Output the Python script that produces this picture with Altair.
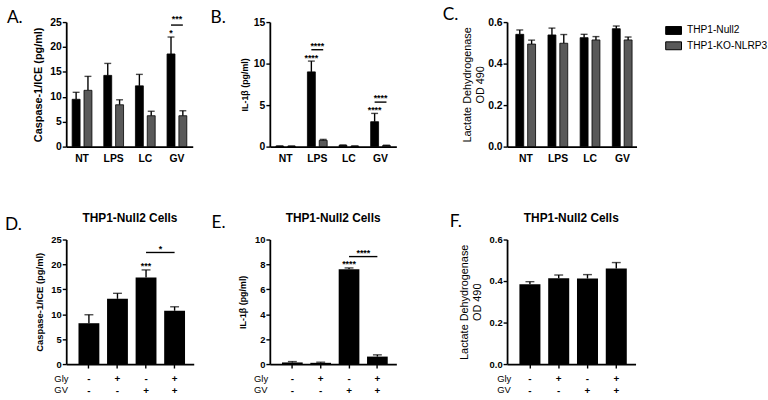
import altair as alt
import pandas as pd

FONT = "Liberation Sans"
LETTER_FONT = "Lato"

# ---------------- data ----------------
treatments = ["NT", "LPS", "LC", "GV"]
cell_lines = ["THP1-Null2", "THP1-KO-NLRP3"]

# A. Caspase-1/ICE (pg/ml)
casp_null = [9.5, 14.3, 12.2, 18.6]
casp_null_sem = [1.4, 2.4, 2.3, 3.4]
casp_ko = [11.3, 8.4, 6.2, 6.2]
casp_ko_sem = [2.8, 1.0, 0.9, 1.0]

# B. IL-1β (pg/ml)
il_null = [0.06, 9.0, 0.15, 3.0]
il_null_sem = [0.02, 1.3, 0.05, 1.0]
il_ko = [0.05, 0.75, 0.06, 0.12]
il_ko_sem = [0.02, 0.12, 0.02, 0.05]

# C. Lactate dehydrogenase OD 490
ldh_null = [0.541, 0.538, 0.525, 0.568]
ldh_null_sem = [0.021, 0.033, 0.016, 0.013]
ldh_ko = [0.494, 0.498, 0.514, 0.514]
ldh_ko_sem = [0.019, 0.042, 0.016, 0.014]

# D-F. THP1-Null2 cells, Gly / GV combinations
row_headers = ["Gly", "GV"]
gly = ["-", "+", "-", "+"]
gv = ["-", "-", "+", "+"]
casp2 = [8.2, 13.1, 17.4, 10.7]
casp2_sem = [1.7, 1.1, 1.5, 0.8]
il2 = [0.13, 0.1, 7.62, 0.6]
il2_sem = [0.07, 0.05, 0.1, 0.14]
ldh2 = [0.385, 0.413, 0.412, 0.46]
ldh2_sem = [0.012, 0.016, 0.019, 0.029]

# significance annotations
A_bar_stars = [("GV", "THP1-Null2", 22.2, "*")]
A_pairs = [("GV", 24.4, 25.0, "***")]
B_bar_stars = [("LPS", "THP1-Null2", 10.35, "****"), ("GV", "THP1-Null2", 4.05, "****")]
B_pairs = [("LPS", 11.67, 11.8, "****"), ("GV", 5.36, 5.45, "****")]
D_bar_stars = [(2, 19.1, "***")]
D_pair = (2, 3, 22.4, 22.5, "*")
E_bar_stars = [(2, 7.8, "****")]
E_pair = (2, 3, 8.63, 8.7, "****")

GRAY = "#595959"


def y_axis(values, fmt, title, tsize, tweight, tpad, extent, lsize):
    return alt.Axis(values=values, format=fmt, title=title, titleFontSize=tsize,
                    titleFontWeight=tweight, titlePadding=tpad, minExtent=extent,
                    maxExtent=extent, labelFontSize=lsize, labelFontWeight="bold",
                    labelPadding=1, tickSize=4, tickWidth=1.4, domainWidth=1.8,
                    grid=False, labelFont=FONT, titleFont=FONT, labelColor="black",
                    titleColor="black", tickColor="black", domainColor="black")


def star_text(df):
    return alt.Chart(df).mark_text(font=FONT, fontWeight="bold", fontSize=9,
                                   baseline="alphabetic", color="black")


def grouped_panel(nm, ns, km, ks, ymax, yaxis, width, xsc, bar_stars, pairs, legend=False):
    rows = []
    for i, t in enumerate(treatments):
        rows.append(dict(treat=t, line=cell_lines[0], mean=nm[i], hi=nm[i] + ns[i]))
        rows.append(dict(treat=t, line=cell_lines[1], mean=km[i], hi=km[i] + ks[i]))
    df = pd.DataFrame(rows)
    xaxis = alt.Axis(title=None, labelAngle=0, ticks=False, labelPadding=7,
                     labelFontSize=10.5, labelFontWeight="bold", labelFont=FONT,
                     labelColor="black", domainWidth=1.8, domainColor="black")
    X = alt.X("treat:N", sort=treatments, scale=alt.Scale(domain=treatments, **xsc), axis=xaxis)
    XO = alt.XOffset("line:N", sort=cell_lines,
                     scale=alt.Scale(domain=cell_lines, paddingInner=0.33, paddingOuter=0))
    ysc = alt.Scale(domain=[0, ymax], nice=False, zero=True)

    def Y(f):
        return alt.Y(f + ":Q", scale=ysc, axis=yaxis)

    if legend:
        leg = alt.Legend(orient="none", legendX=160, legendY=0, title=None,
                         symbolType="M-1,-0.5H1V0.5H-1Z", symbolSize=256,
                         symbolStrokeColor="black", symbolStrokeWidth=1,
                         symbolOpacity=1, labelFont=FONT, labelFontSize=10.3,
                         labelColor="black", labelOffset=5, rowPadding=0.5, padding=0)
    else:
        leg = None
    color = alt.Color("line:N", sort=cell_lines,
                      scale=alt.Scale(domain=cell_lines, range=["#000000", GRAY]),
                      legend=leg)
    base = alt.Chart(df)
    err = base.mark_rule(color="black", strokeWidth=1.4).encode(
        x=X, xOffset=XO, y=Y("mean"), y2="hi:Q")
    bars = base.mark_bar(stroke="black", strokeWidth=0.8).encode(
        x=X, xOffset=XO, y=Y("mean"), color=color)
    cap = base.mark_tick(color="black", thickness=1.4, size=7).encode(
        x=X, xOffset=XO, y=Y("hi"))
    layers = [err, bars, cap]
    if bar_stars:
        sb = pd.DataFrame(bar_stars, columns=["treat", "line", "y", "txt"])
        layers.append(star_text(sb).encode(x=X, xOffset=XO, y=Y("y"), text="txt:N"))
    if pairs:
        lrows = []
        trows = []
        for j, (t, ly, ty, txt) in enumerate(pairs):
            for ln in cell_lines:
                lrows.append(dict(treat=t, line=ln, y=ly, g=j))
            trows.append(dict(treat=t, y=ty, txt=txt))
        layers.append(alt.Chart(pd.DataFrame(lrows)).mark_line(color="black", strokeWidth=1.4).encode(
            x=X, xOffset=XO, y=Y("y"), detail="g:N"))
        layers.append(star_text(pd.DataFrame(trows)).encode(x=X, y=Y("y"), text="txt:N"))
    return alt.layer(*layers).properties(width=width, height=126)


def single_panel(vals, sems, ymax, yaxis, width, bar_stars, pair):
    cats = [f"{a}|{b}" for a, b in zip(gly, gv)]
    df = pd.DataFrame(dict(cat=cats, mean=vals, hi=[v + s for v, s in zip(vals, sems)]))
    xaxis = alt.Axis(title=None, labelAngle=0, labelExpr="split(datum.label, '|')",
                     ticks=True, tickSize=4, tickWidth=1.4, tickColor="black",
                     labelPadding=6, labelLineHeight=11.5, labelFontSize=10,
                     labelFontWeight="bold", labelFont=FONT, labelColor="black",
                     domainWidth=1.8, domainColor="black")
    X = alt.X("cat:N", sort=cats,
              scale=alt.Scale(domain=cats, paddingInner=0.27, paddingOuter=0.367, align=0.585),
              axis=xaxis)
    ysc = alt.Scale(domain=[0, ymax], nice=False, zero=True)

    def Y(f):
        return alt.Y(f + ":Q", scale=ysc, axis=yaxis)

    base = alt.Chart(df)
    err = base.mark_rule(color="black", strokeWidth=1.4).encode(x=X, y=Y("mean"), y2="hi:Q")
    bars = base.mark_bar(color="black").encode(x=X, y=Y("mean"))
    cap = base.mark_tick(color="black", thickness=1.4, size=9).encode(x=X, y=Y("hi"))
    layers = [err, bars, cap]
    if bar_stars:
        sb = pd.DataFrame([dict(cat=cats[i], y=y, txt=t) for i, y, t in bar_stars])
        layers.append(star_text(sb).encode(x=X, y=Y("y"), text="txt:N"))
    if pair:
        i0, i1, ly, ty, txt = pair
        ld = pd.DataFrame([dict(cat=cats[i0], y=ly), dict(cat=cats[i1], y=ly)])
        layers.append(alt.Chart(ld).mark_line(color="black", strokeWidth=1.4).encode(x=X, y=Y("y")))
        td = pd.DataFrame([dict(cat=cats[i0], y=ty, txt=txt)])
        layers.append(alt.Chart(td).mark_text(font=FONT, fontWeight="bold", fontSize=9,
                                              baseline="alphabetic", color="black", dx=14.5)
                      .encode(x=X, y=Y("y"), text="txt:N"))
    title = alt.TitleParams("THP1-Null2 Cells", font=FONT, fontSize=12, fontWeight="bold",
                            color="black", anchor="middle", frame="group", offset=10)
    return alt.layer(*layers).properties(width=width, height=126, title=title)


def spacer(w, h, letter=None, lx=0, ly=0, top=False, header_x=None):
    layers = [alt.Chart(pd.DataFrame({"k": [0]})).mark_rect(opacity=0).encode(
        x=alt.value(0), x2=alt.value(1),
        y=alt.value(-20 if top else 0), y2=alt.value(0 if top else 1))]
    if letter:
        layers.append(alt.Chart(pd.DataFrame({"lab": [letter]})).mark_text(
            font=LETTER_FONT, fontSize=17.5, align="left", baseline="alphabetic",
            color="black").encode(x=alt.value(lx), y=alt.value(ly), text="lab:N"))
    if header_x is not None:
        layers.append(alt.Chart(pd.DataFrame({"h": ["\n".join(row_headers)]})).mark_text(
            font=FONT, fontSize=9.5, align="left", baseline="top", lineBreak="\n",
            lineHeight=11.5, color="black").encode(
            x=alt.value(header_x), y=alt.value(136), text="h:N"))
    return alt.layer(*layers).properties(width=w, height=h)


xsc_ab = dict(paddingInner=0.375, paddingOuter=0.1875)
xsc_c = dict(paddingInner=0.375, paddingOuter=0.2, align=0.68)

panel_a = grouped_panel(casp_null, casp_null_sem, casp_ko, casp_ko_sem, 25,
                        y_axis([0, 5, 10, 15, 20, 25], "d", "Caspase-1/ICE (pg/ml)", 11, "bold", 6.5, 17, 10.5),
                        128, xsc_ab, A_bar_stars, A_pairs)
panel_b = grouped_panel(il_null, il_null_sem, il_ko, il_ko_sem, 15,
                        y_axis([0, 5, 10, 15], "d", "IL-1β (pg/ml)", 9, "bold", 3.5, 17, 10.5),
                        128, xsc_ab, B_bar_stars, B_pairs)
panel_c = grouped_panel(ldh_null, ldh_null_sem, ldh_ko, ldh_ko_sem, 0.6,
                        y_axis([0, 0.2, 0.4, 0.6], ".1f", ["Lactate Dehydrogenase", "OD 490"], 11, "normal", 2, 20, 10.5),
                        131, xsc_c, None, None, legend=True)

panel_d = single_panel(casp2, casp2_sem, 25,
                       y_axis([0, 5, 10, 15, 20, 25], "d", "Caspase-1/ICE (pg/ml)", 9.5, "bold", 5.5, 17, 9.5),
                       129, D_bar_stars, D_pair)
panel_e = single_panel(il2, il2_sem, 10,
                       y_axis([0, 2, 4, 6, 8, 10], "d", "IL-1β (pg/ml)", 9, "bold", 5.5, 17, 9.5),
                       128, E_bar_stars, E_pair)
panel_f = single_panel(ldh2, ldh2_sem, 0.6,
                       y_axis([0, 0.2, 0.4, 0.6], ".1f", ["Lactate Dehydrogenase", "OD 490"], 11, "normal", 5, 20, 9.5),
                       130, None, None)

row1 = [spacer(67, 126, "A.", 7, 1, top=True), panel_a,
        spacer(77, 126, "B.", 17, 1), panel_b,
        spacer(102, 126, "C.", 47, -2), panel_c]
gap_row = [spacer(1, 94) for _ in range(6)]
row2 = [spacer(66, 126, "D.", 5, -10, header_x=55), panel_d,
        spacer(70, 126, "E.", 18, -12, header_x=61), panel_e,
        spacer(112, 126, "F.", 54, -13, header_x=102), panel_f]

chart = alt.concat(*(row1 + gap_row + row2), columns=6, spacing=0,
                   align="none", bounds="flush").properties(
    padding={"left": 0, "top": 0, "right": 0, "bottom": 0}
).resolve_scale(color="independent").resolve_legend(color="independent").configure(
    font=FONT
).configure_view(strokeWidth=0, stroke=None)

chart.save("out.html", embed_options={"renderer": "svg", "actions": False})
